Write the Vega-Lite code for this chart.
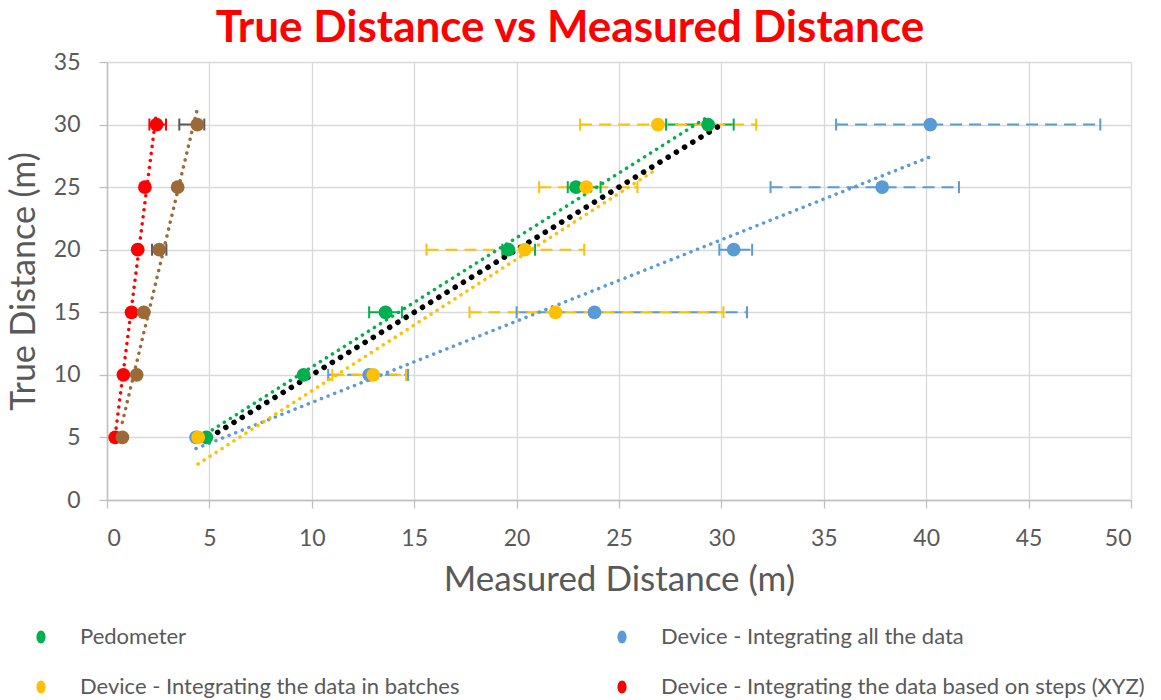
{
  "$schema": "https://vega.github.io/schema/vega-lite/v6.json",
  "width": 1024,
  "height": 438,
  "autosize": {"type": "none"},
  "padding": {"left": 107, "top": 62, "right": 30, "bottom": 200},
  "background": "white",
  "title": {
    "text": "True Distance vs Measured Distance",
    "font": "Lato",
    "fontSize": 44,
    "fontWeight": "bold",
    "color": "#FF0000",
    "anchor": "middle",
    "dx": -49,
    "baseline": "bottom",
    "offset": -44
  },
  "datasets": {
    "walks": [
      {"series": "Pedometer", "measured_dist": 4.85, "true_dist": 5, "lo": null, "hi": null},
      {"series": "Pedometer", "measured_dist": 9.6, "true_dist": 10, "lo": null, "hi": null},
      {"series": "Pedometer", "measured_dist": 13.6, "true_dist": 15, "lo": 12.8, "hi": 14.4},
      {"series": "Pedometer", "measured_dist": 19.6, "true_dist": 20, "lo": 19.3, "hi": 20.9},
      {"series": "Pedometer", "measured_dist": 22.9, "true_dist": 25, "lo": 22.5, "hi": 24.1},
      {"series": "Pedometer", "measured_dist": 29.35, "true_dist": 30, "lo": 27.3, "hi": 30.6},
      {"series": "Device - Integrating all the data", "measured_dist": 4.35, "true_dist": 5, "lo": null, "hi": null},
      {"series": "Device - Integrating all the data", "measured_dist": 12.8, "true_dist": 10, "lo": 10.8, "hi": 14.7},
      {"series": "Device - Integrating all the data", "measured_dist": 23.8, "true_dist": 15, "lo": 20.0, "hi": 31.25},
      {"series": "Device - Integrating all the data", "measured_dist": 30.6, "true_dist": 20, "lo": 29.9, "hi": 31.5},
      {"series": "Device - Integrating all the data", "measured_dist": 37.85, "true_dist": 25, "lo": 32.4, "hi": 41.6},
      {"series": "Device - Integrating all the data", "measured_dist": 40.2, "true_dist": 30, "lo": 35.6, "hi": 48.5},
      {"series": "Device - Integrating the data in batches", "measured_dist": 4.45, "true_dist": 5, "lo": null, "hi": null},
      {"series": "Device - Integrating the data in batches", "measured_dist": 13.0, "true_dist": 10, "lo": 11.0, "hi": 14.6},
      {"series": "Device - Integrating the data in batches", "measured_dist": 21.9, "true_dist": 15, "lo": 17.7, "hi": 30.1},
      {"series": "Device - Integrating the data in batches", "measured_dist": 20.4, "true_dist": 20, "lo": 15.6, "hi": 23.3},
      {"series": "Device - Integrating the data in batches", "measured_dist": 23.4, "true_dist": 25, "lo": 21.1, "hi": 25.9},
      {"series": "Device - Integrating the data in batches", "measured_dist": 26.9, "true_dist": 30, "lo": 23.1, "hi": 31.7},
      {"series": "Device - Integrating the data based on steps (XYZ)", "measured_dist": 0.4, "true_dist": 5, "lo": null, "hi": null},
      {"series": "Device - Integrating the data based on steps (XYZ)", "measured_dist": 0.8, "true_dist": 10, "lo": null, "hi": null},
      {"series": "Device - Integrating the data based on steps (XYZ)", "measured_dist": 1.2, "true_dist": 15, "lo": null, "hi": null},
      {"series": "Device - Integrating the data based on steps (XYZ)", "measured_dist": 1.5, "true_dist": 20, "lo": null, "hi": null},
      {"series": "Device - Integrating the data based on steps (XYZ)", "measured_dist": 1.85, "true_dist": 25, "lo": null, "hi": null},
      {"series": "Device - Integrating the data based on steps (XYZ)", "measured_dist": 2.42, "true_dist": 30, "lo": 2.07, "hi": 2.88},
      {"series": "Device - Integrating the data based on steps (magnitude)", "measured_dist": 0.75, "true_dist": 5, "lo": null, "hi": null},
      {"series": "Device - Integrating the data based on steps (magnitude)", "measured_dist": 1.45, "true_dist": 10, "lo": null, "hi": null},
      {"series": "Device - Integrating the data based on steps (magnitude)", "measured_dist": 1.8, "true_dist": 15, "lo": null, "hi": null},
      {"series": "Device - Integrating the data based on steps (magnitude)", "measured_dist": 2.55, "true_dist": 20, "lo": 2.2, "hi": 2.9},
      {"series": "Device - Integrating the data based on steps (magnitude)", "measured_dist": 3.45, "true_dist": 25, "lo": null, "hi": null},
      {"series": "Device - Integrating the data based on steps (magnitude)", "measured_dist": 4.41, "true_dist": 30, "lo": 3.53, "hi": 4.75}
    ],
    "ideal": [
      {"measured_dist": 5, "true_dist": 5},
      {"measured_dist": 30, "true_dist": 30}
    ]
  },
  "data": {"name": "walks"},
  "config": {
    "view": {"stroke": null},
    "axis": {
      "gridColor": "#D9D9D9",
      "gridWidth": 1.3,
      "domainColor": "#BFBFBF",
      "domainWidth": 1.5,
      "tickColor": "#BFBFBF",
      "tickWidth": 1.3,
      "tickSize": 8,
      "labelFont": "Lato",
      "labelFontSize": 23,
      "labelColor": "#595959",
      "titleFont": "Lato",
      "titleFontSize": 35,
      "titleFontWeight": "normal",
      "titleColor": "#595959"
    }
  },
  "encoding": {
    "y": {
      "field": "true_dist",
      "type": "quantitative",
      "scale": {"domain": [0, 35], "nice": false, "zero": true},
      "axis": {
        "title": "True Distance (m)",
        "titleFontSize": 34,
        "values": [0, 5, 10, 15, 20, 25, 30, 35],
        "labelPadding": 19,
        "titlePadding": 12
      }
    },
    "color": {
      "field": "series",
      "type": "nominal",
      "scale": {
        "domain": [
          "Pedometer",
          "Device - Integrating all the data",
          "Device - Integrating the data in batches",
          "Device - Integrating the data based on steps (XYZ)",
          "Device - Integrating the data based on steps (magnitude)"
        ],
        "range": ["#00B050", "#5B9BD5", "#FFC000", "#FF0000", "#9C6A36"]
      },
      "legend": {
        "values": [
          "Pedometer",
          "Device - Integrating the data in batches",
          "Device - Integrating all the data",
          "Device - Integrating the data based on steps (XYZ)"
        ],
        "title": null,
        "orient": "none",
        "legendX": -77,
        "legendY": 564,
        "columns": 2,
        "columnPadding": 151,
        "rowPadding": 28,
        "symbolType": "M-0.7,0A0.7,1 0 1,1 0.7,0A0.7,1 0 1,1 -0.7,0Z",
        "symbolSize": 169,
        "symbolStrokeWidth": 0,
        "symbolOpacity": 1,
        "labelFont": "Lato",
        "labelFontSize": 22,
        "labelColor": "#595959",
        "labelOffset": 28,
        "labelLimit": 700
      }
    }
  },
  "layer": [
    {
      "transform": [{"filter": "datum.lo != null"}],
      "mark": {"type": "rule", "strokeWidth": 2},
      "encoding": {
        "x": {
          "field": "lo",
          "type": "quantitative",
          "scale": {"domain": [0, 50], "nice": false},
          "axis": {
            "title": "Measured Distance (m)",
            "values": [0, 5, 10, 15, 20, 25, 30, 35, 40, 45, 50],
            "labelPadding": 19,
            "titlePadding": 12
          }
        },
        "x2": {"field": "hi"},
        "color": {
          "condition": {"test": "datum.series === 'Device - Integrating the data based on steps (magnitude)'", "value": "#595959"},
          "field": "series",
          "type": "nominal"
        },
        "strokeDash": {
          "condition": {"test": "indexof(datum.series, 'steps') >= 0", "value": [1, 0]},
          "value": [12, 7]
        }
      }
    },
    {
      "transform": [{"filter": "datum.lo != null"}],
      "mark": {"type": "point", "shape": "M0,-1L0,1", "filled": false, "size": 144, "strokeWidth": 2, "opacity": 1},
      "encoding": {
        "x": {"field": "lo", "type": "quantitative"},
        "color": {
          "condition": {"test": "datum.series === 'Device - Integrating the data based on steps (magnitude)'", "value": "#595959"},
          "field": "series",
          "type": "nominal"
        }
      }
    },
    {
      "transform": [{"filter": "datum.lo != null"}],
      "mark": {"type": "point", "shape": "M0,-1L0,1", "filled": false, "size": 144, "strokeWidth": 2, "opacity": 1},
      "encoding": {
        "x": {"field": "hi", "type": "quantitative"},
        "color": {
          "condition": {"test": "datum.series === 'Device - Integrating the data based on steps (magnitude)'", "value": "#595959"},
          "field": "series",
          "type": "nominal"
        }
      }
    },
    {
      "transform": [{"regression": "true_dist", "on": "measured_dist", "groupby": ["series"]}],
      "mark": {"type": "line", "strokeWidth": 3.5, "strokeDash": [0.1, 7], "strokeCap": "round"},
      "encoding": {
        "x": {"field": "measured_dist", "type": "quantitative"},
        "detail": {"field": "series"}
      }
    },
    {
      "data": {"name": "ideal"},
      "mark": {"type": "line", "strokeWidth": 5.5, "strokeDash": [0.1, 9.5], "strokeCap": "round", "color": "#000000"},
      "encoding": {
        "x": {"field": "measured_dist", "type": "quantitative"},
        "color": {"value": "#000000"}
      }
    },
    {
      "mark": {"type": "circle", "size": 190, "opacity": 1},
      "encoding": {
        "x": {"field": "measured_dist", "type": "quantitative"}
      }
    }
  ]
}
